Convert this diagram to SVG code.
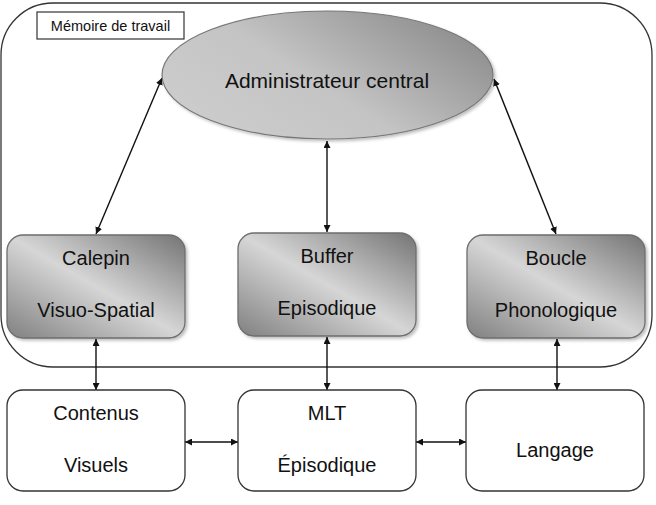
<svg xmlns="http://www.w3.org/2000/svg" width="656" height="505" viewBox="0 0 656 505">
<defs>
<style>
text{font-family:"Liberation Sans",Arial,sans-serif;fill:#111;text-anchor:middle}
.t{font-size:20px}
.frame{fill:none;stroke:#333;stroke-width:1.3}
.gbox{fill:url(#gb);stroke:#6e6e6e;stroke-width:1.3;filter:url(#sh)}
.wbox{fill:#fff;stroke:#333;stroke-width:1.3}
.c{stroke:#111;stroke-width:1.4;fill:none;marker-start:url(#a);marker-end:url(#a)}
</style>
<linearGradient id="gb" x1="1" y1="0" x2="0" y2="1">
<stop offset="0" stop-color="#747474"/>
<stop offset="0.5" stop-color="#d6d6d6"/>
<stop offset="1" stop-color="#808080"/>
</linearGradient>
<linearGradient id="ge" x1="0" y1="0.8" x2="1" y2="0.2">
<stop offset="0" stop-color="#cdcdcd"/>
<stop offset="0.45" stop-color="#c4c4c4"/>
<stop offset="1" stop-color="#8a8a8a"/>
</linearGradient>
<filter id="sh" x="-10%" y="-10%" width="125%" height="125%">
<feDropShadow dx="2" dy="2" stdDeviation="1.5" flood-color="#000" flood-opacity="0.25"/>
</filter>
<marker id="a" viewBox="0 0 10 10" refX="10" refY="5" markerWidth="7" markerHeight="7" markerUnits="userSpaceOnUse" orient="auto-start-reverse">
<path d="M0,0 L10,5 L0,10 z" fill="#111"/>
</marker>
</defs>
<g id="memoire-travail">
<rect class="frame" x="1" y="3" width="651" height="364" rx="52" ry="52"/>
<rect x="37" y="12" width="147" height="27" fill="#fff" stroke="#333" stroke-width="1.2"/>
<text x="110.5" y="30.5" style="font-size:14.5px">Mémoire de travail</text>
</g>
<g id="connectors">
<line class="c" x1="96" y1="234" x2="162" y2="78"/>
<line class="c" x1="327" y1="232" x2="327" y2="141"/>
<line class="c" x1="556" y1="234" x2="494" y2="79"/>
<line class="c" x1="96" y1="339" x2="96" y2="390"/>
<line class="c" x1="327" y1="337" x2="327" y2="390"/>
<line class="c" x1="557" y1="339" x2="557" y2="390"/>
<line class="c" x1="185" y1="442" x2="238" y2="442"/>
<line class="c" x1="416" y1="442" x2="466" y2="442"/>
</g>
<g id="administrateur">
<ellipse cx="327.5" cy="75" rx="165.5" ry="64" fill="url(#ge)" stroke="#777" stroke-width="1.2" filter="url(#sh)"/>
<text class="t" x="327" y="88" style="font-size:21px">Administrateur central</text>
</g>
<g id="calepin">
<rect class="gbox" x="7" y="235" width="178" height="103" rx="16"/>
<text class="t" x="96" y="265">Calepin</text>
<text class="t" x="96" y="317">Visuo-Spatial</text>
</g>
<g id="buffer">
<rect class="gbox" x="238" y="233" width="178" height="103" rx="16"/>
<text class="t" x="327" y="263">Buffer</text>
<text class="t" x="327" y="315">Episodique</text>
</g>
<g id="boucle">
<rect class="gbox" x="467" y="235" width="178" height="103" rx="16"/>
<text class="t" x="556" y="265">Boucle</text>
<text class="t" x="556" y="317">Phonologique</text>
</g>
<g id="contenus">
<rect class="wbox" x="7" y="390" width="178" height="101" rx="16"/>
<text class="t" x="96" y="420">Contenus</text>
<text class="t" x="96" y="472">Visuels</text>
</g>
<g id="mlt">
<rect class="wbox" x="238" y="390" width="178" height="101" rx="16"/>
<text class="t" x="327" y="420">MLT</text>
<text class="t" x="327" y="472">Épisodique</text>
</g>
<g id="langage">
<rect class="wbox" x="466" y="390" width="178" height="101" rx="16"/>
<text class="t" x="555" y="457">Langage</text>
</g>
</svg>
